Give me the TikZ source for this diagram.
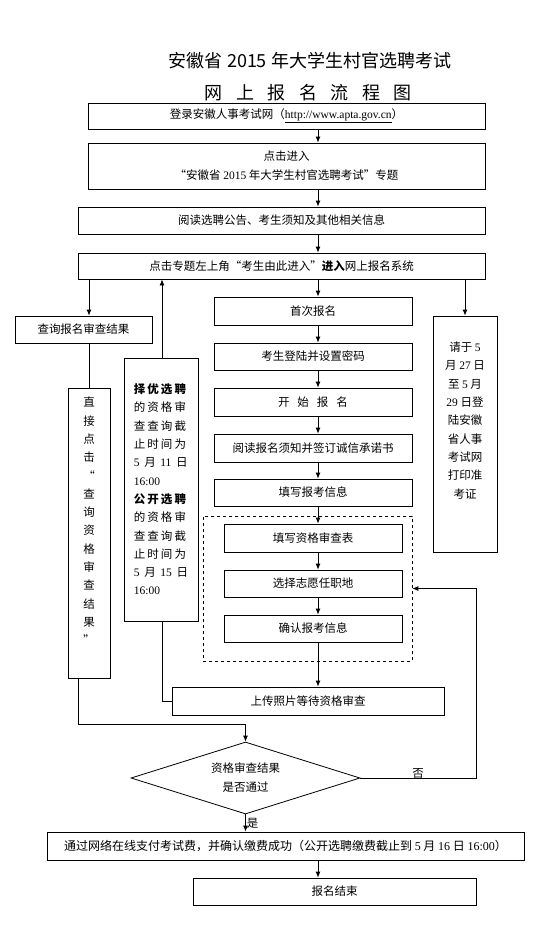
\documentclass[tikz,border=0pt]{standalone}
\usepackage{fontspec}
\setmainfont{Noto Sans CJK SC}
\newfontfamily\lat{Liberation Serif}
\newfontfamily\spaced{Noto Sans CJK SC}[LetterSpace=18]
\usetikzlibrary{positioning}
\usetikzlibrary{arrows.meta}
\usetikzlibrary{shapes.geometric}

\newcommand{\tgap}{\hspace{13.5pt}}

\tikzset{
	titletext/.style={inner sep=0pt, font=\fontsize{18}{20}\selectfont},
	stepbox/.style={draw, line width=0.8pt, inner sep=0pt, align=center, font=\fontsize{11.5}{19}\selectfont},
	tallbox/.style={stepbox, font=\fontsize{11.5}{18.3}\selectfont},
	groupbox/.style={draw, dashed, line width=0.7pt, inner sep=0pt},
	arr/.style={-{Latex[length=6pt,width=5pt]}, line width=0.8pt},
	link/.style={line width=0.8pt},
	lbl/.style={inner sep=1pt, font=\fontsize{11.5}{14}\selectfont}
}

\begin{document}
\begin{tikzpicture}[x=1pt,y=-1pt]
		\useasboundingbox (0,0) rectangle (547,929);

		% Title
		\node[titletext] (title) at (310,61) {安徽省 2015 年大学生村官选聘考试};
		\node[titletext] (subtitle) at (308,93) {网\tgap 上\tgap 报\tgap 名\tgap 流\tgap 程\tgap 图};

		% Top boxes
		\node[stepbox, minimum width=397pt, minimum height=26pt] (login) at (286.5,116) {登录安徽人事考试网（{\lat\underline{http://www.apta.gov.cn}}）};
		\node[stepbox, minimum width=397pt, minimum height=46pt] (enter) at (286.5,166) {点击进入\\“安徽省 {\lat 2015} 年大学生村官选聘考试”专题};
		\node[stepbox, minimum width=407pt, minimum height=27pt] (read) at (281.5,220.5) {阅读选聘公告、考生须知及其他相关信息};
		\node[stepbox, minimum width=407pt, minimum height=26pt] (portal) at (281.5,266) {点击专题左上角“考生由此进入”\textbf{进入}网上报名系统};

		% Left side
		\node[stepbox, minimum width=137pt, minimum height=27pt] (query) at (83.5,329.5) {查询报名审查结果};
		\node[tallbox, minimum width=42pt, minimum height=290pt, text depth=24pt] (direct) at (89,533) {直\\接\\点\\击\\“\\查\\询\\资\\格\\审\\查\\结\\果\\”};
		\node[tallbox, align=left, font={\spaced\fontsize{11.5}{18.3}\selectfont}, minimum width=74pt, minimum height=263pt] (deadline) at (161,489.5) {\textbf{择优选聘}\\的资格审\\查查询截\\止时间为\\{\lat 5} 月 {\lat 11} 日\\{\lat 16:00}\\\textbf{公开选聘}\\的资格审\\查查询截\\止时间为\\{\lat 5} 月 {\lat 15} 日\\{\lat 16:00}};

		% Right side
		\node[tallbox, minimum width=64pt, minimum height=236pt, text depth=28pt] (printbox) at (465,434) {请于 {\lat 5}\\月 {\lat 27} 日\\至 {\lat 5} 月\\{\lat 29} 日登\\陆安徽\\省人事\\考试网\\打印准\\考证};

		% Main column
		\node[stepbox, minimum width=198pt, minimum height=28pt] (first) at (313,311) {首次报名};
		\node[stepbox, minimum width=198pt, minimum height=27pt] (register) at (313,356.5) {考生登陆并设置密码};
		\node[stepbox, minimum width=198pt, minimum height=28pt] (start) at (313,402) {开\hspace{8pt}始\hspace{8pt}报\hspace{8pt}名};
		\node[stepbox, minimum width=198pt, minimum height=28pt] (notice) at (313,448) {阅读报名须知并签订诚信承诺书};
		\node[stepbox, minimum width=198pt, minimum height=27pt] (info) at (313,492.5) {填写报考信息};

		\node[groupbox, minimum width=209pt, minimum height=145pt] (group) at (307.5,588.5) {};
		\node[stepbox, minimum width=178pt, minimum height=28pt] (form) at (313,538) {填写资格审查表};
		\node[stepbox, minimum width=178pt, minimum height=27pt] (place) at (313,583.5) {选择志愿任职地};
		\node[stepbox, minimum width=178pt, minimum height=27pt] (confirm) at (313,628.5) {确认报考信息};

		\node[stepbox, minimum width=272pt, minimum height=28pt] (upload) at (308,701) {上传照片等待资格审查};

		% Decision and end
		\node[stepbox, diamond, aspect=3.18, minimum width=229pt, minimum height=72pt] (check) at (245.5,778) {资格审查结果\\是否通过};
		\node[stepbox, font=\fontsize{12}{14}\selectfont, minimum width=477pt, minimum height=28pt] (pay) at (285.5,846) {通过网络在线支付考试费，并确认缴费成功（公开选聘缴费截止到 {\lat 5} 月 {\lat 16} 日 {\lat 16:00}）};
		\node[stepbox, minimum width=283pt, minimum height=27pt] (finish) at (334.5,891.5) {报名结束};

		% Helper coordinates
		\coordinate (spine) at (318,0);
		\coordinate (leftx) at (89,0);
		\coordinate (midx) at (162,0);
		\coordinate (joinL) at (78,724);
		\coordinate (backR) at (476,778);

		% Main flow
		\draw[arr] (login.south -| spine) -- (enter.north -| spine);
		\draw[arr] (enter.south -| spine) -- (read.north -| spine);
		\draw[arr] (read.south -| spine) -- (portal.north -| spine);
		\draw[arr] (portal.south -| spine) -- (first.north -| spine);
		\draw[arr] (first.south -| spine) -- (register.north -| spine);
		\draw[arr] (register.south -| spine) -- (start.north -| spine);
		\draw[arr] (start.south -| spine) -- (notice.north -| spine);
		\draw[arr] (notice.south -| spine) -- (info.north -| spine);
		\draw[arr] (info.south -| spine) -- (form.north -| spine);
		\draw[arr] (form.south -| spine) -- (place.north -| spine);
		\draw[arr] (place.south -| spine) -- (confirm.north -| spine);
		\draw[arr] (confirm.south -| spine) -- (upload.north -| spine);

		% Side branches
		\draw[arr] (portal.south -| leftx) -- (query.north -| leftx);
		\draw[link] (query.south -| leftx) -- (direct.north -| leftx);
		\draw[arr] (direct.south -| joinL) -- (joinL) -| (check.north);
		\draw[link] (upload.west) -- (upload.west -| midx) -- (deadline.south -| midx);
		\draw[arr] (deadline.north -| midx) -- (portal.south -| midx);
		\draw[arr] (portal.south -| printbox.north) -- (printbox.north);

		% Decision outcomes
		\draw[arr] (check.east) -- node[lbl, above, yshift=-2pt] (no) {否} (backR) |- (group.east);
		\draw[arr] (check.south) -- node[lbl, right] (yes) {是} (pay.north -| check.south);
		\draw[arr] (pay.south -| spine) -- (finish.north -| spine);
	\end{tikzpicture}
\end{document}
